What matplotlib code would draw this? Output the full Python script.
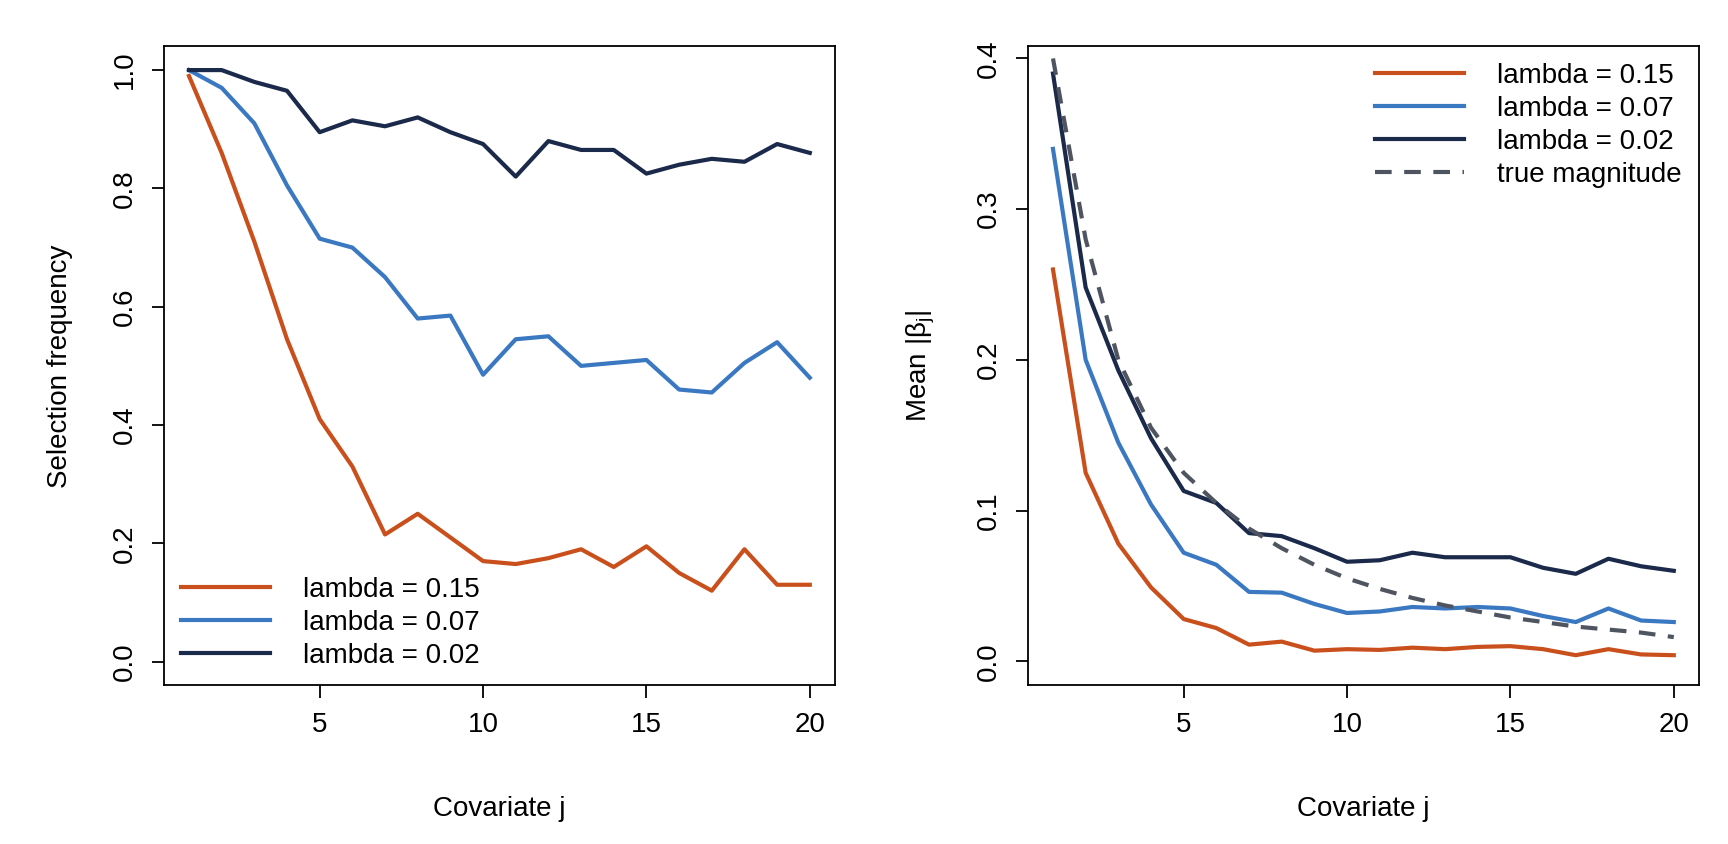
import matplotlib.pyplot as plt

covariate = list(range(1, 21))

# selection frequency
sel_015 = [0.99, 0.86, 0.71, 0.545, 0.41, 0.33, 0.215, 0.25, 0.21, 0.17,
           0.165, 0.175, 0.19, 0.16, 0.195, 0.15, 0.12, 0.19, 0.13, 0.13]
sel_007 = [1.0, 0.97, 0.91, 0.805, 0.715, 0.70, 0.65, 0.58, 0.585, 0.485,
           0.545, 0.55, 0.50, 0.505, 0.51, 0.46, 0.455, 0.505, 0.54, 0.48]
sel_002 = [1.0, 1.0, 0.98, 0.965, 0.895, 0.915, 0.905, 0.92, 0.895, 0.875,
           0.82, 0.88, 0.865, 0.865, 0.825, 0.84, 0.85, 0.845, 0.875, 0.86]

# mean |beta_j|
beta_015 = [0.26, 0.125, 0.078, 0.049, 0.028, 0.022, 0.011, 0.013, 0.007, 0.008,
            0.0075, 0.009, 0.008, 0.0095, 0.010, 0.008, 0.004, 0.008, 0.0045, 0.004]
beta_007 = [0.34, 0.20, 0.145, 0.104, 0.072, 0.064, 0.046, 0.0455, 0.038, 0.032,
            0.033, 0.036, 0.035, 0.036, 0.035, 0.030, 0.026, 0.035, 0.027, 0.026]
beta_002 = [0.39, 0.248, 0.193, 0.148, 0.113, 0.105, 0.085, 0.083, 0.075, 0.066,
            0.067, 0.072, 0.069, 0.069, 0.069, 0.062, 0.058, 0.068, 0.063, 0.060]
true_mag = [0.40, 0.28, 0.20, 0.155, 0.125, 0.105, 0.088, 0.075, 0.064, 0.055,
            0.048, 0.042, 0.037, 0.033, 0.029, 0.026, 0.023, 0.021, 0.019, 0.016]

c_orange = '#C9501C'
c_blue = '#3B78C2'
c_navy = '#1B2A4A'
c_gray = '#4F5560'

plt.rcParams['font.family'] = ['Liberation Sans', 'DejaVu Sans']
plt.rcParams['font.size'] = 20
plt.rcParams['mathtext.fontset'] = 'custom'
plt.rcParams['mathtext.rm'] = 'Liberation Sans'
plt.rcParams['mathtext.it'] = 'Liberation Sans'

fig = plt.figure(figsize=(17.28, 8.44), dpi=100)
ax1 = fig.add_axes([0.095, 0.188, 0.388, 0.757])
ax2 = fig.add_axes([0.595, 0.188, 0.388, 0.757])

def style(ax):
    ax.tick_params(direction='out', length=9, width=1.3, pad=10)
    for s in ax.spines.values():
        s.set_linewidth(1.3)
    ax.set_xticks([5, 10, 15, 20])
    ax.set_xlim(0.24, 20.76)
    for lab in ax.get_yticklabels():
        lab.set_rotation(90)
        lab.set_va('center')

lw = 3
ax1.plot(covariate, sel_015, color=c_orange, lw=lw, label='lambda = 0.15')
ax1.plot(covariate, sel_007, color=c_blue, lw=lw, label='lambda = 0.07')
ax1.plot(covariate, sel_002, color=c_navy, lw=lw, label='lambda = 0.02')
ax1.set_ylim(-0.04, 1.04)
ax1.set_yticks([0.0, 0.2, 0.4, 0.6, 0.8, 1.0])
ax1.set_yticklabels(['0.0', '0.2', '0.4', '0.6', '0.8', '1.0'])
style(ax1)
ax1.set_xlabel('Covariate j', labelpad=42)
ax1.set_ylabel('Selection frequency', labelpad=28)
ax1.legend(loc='lower left', frameon=False, handlelength=3.2, borderaxespad=0.2,
           labelspacing=0.25, handletextpad=1.2)

ax2.plot(covariate, beta_015, color=c_orange, lw=lw, label='lambda = 0.15')
ax2.plot(covariate, beta_007, color=c_blue, lw=lw, label='lambda = 0.07')
ax2.plot(covariate, beta_002, color=c_navy, lw=lw, label='lambda = 0.02')
ax2.plot(covariate, true_mag, color=c_gray, lw=lw, ls=(0, (4, 3)), label='true magnitude')
ax2.set_ylim(-0.016, 0.408)
ax2.set_yticks([0.0, 0.1, 0.2, 0.3, 0.4])
ax2.set_yticklabels(['0.0', '0.1', '0.2', '0.3', '0.4'])
style(ax2)
ax2.set_xlabel('Covariate j', labelpad=42)
ax2.set_ylabel(r'Mean |$\mathrm{\beta_j}$|', labelpad=28)
ax2.legend(loc='upper right', frameon=False, handlelength=3.2, borderaxespad=0.2,
           labelspacing=0.25, handletextpad=1.2)

fig.savefig('out.png', dpi=100)
